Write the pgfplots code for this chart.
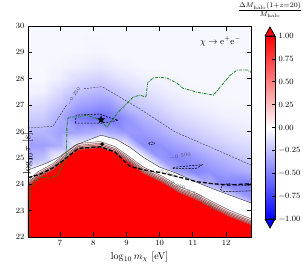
\documentclass[border=0pt]{standalone}
\usepackage{pgfplots}
\pgfplotsset{compat=1.18}
\usepackage{pgfplotstable}
\pgfplotsset{colormap={bwr}{rgb=(0,0,1) rgb=(1,1,1) rgb=(1,0,0)}}
\definecolor{pinkA}{rgb}{1,0.86,0.86}
\definecolor{pinkB}{rgb}{1,0.66,0.66}
\definecolor{pinkC}{rgb}{1,0.40,0.40}
\definecolor{dgreen}{rgb}{0.10,0.52,0.10}
\pgfdeclareplotmark{fstar}{%
  \pgfpathmoveto{\pgfpointpolar{90}{\pgfplotmarksize}}%
  \pgfpathlineto{\pgfpointpolar{126}{0.4\pgfplotmarksize}}%
  \pgfpathlineto{\pgfpointpolar{162}{\pgfplotmarksize}}%
  \pgfpathlineto{\pgfpointpolar{198}{0.4\pgfplotmarksize}}%
  \pgfpathlineto{\pgfpointpolar{234}{\pgfplotmarksize}}%
  \pgfpathlineto{\pgfpointpolar{270}{0.4\pgfplotmarksize}}%
  \pgfpathlineto{\pgfpointpolar{306}{\pgfplotmarksize}}%
  \pgfpathlineto{\pgfpointpolar{342}{0.4\pgfplotmarksize}}%
  \pgfpathlineto{\pgfpointpolar{18}{\pgfplotmarksize}}%
  \pgfpathlineto{\pgfpointpolar{54}{0.4\pgfplotmarksize}}%
  \pgfpathclose\pgfusepathqfillstroke}

% red (saturated) region boundary
\pgfplotstableread{
x y
6.04 23.90
6.34 24.23
6.79 24.54
7.15 24.92
7.55 25.30
8.21 25.38
8.66 25.18
9.05 24.84
9.50 24.42
10.10 24.05
10.60 23.67
11.13 23.40
11.52 23.14
12.12 22.76
12.75 22.45
}\redb

% zero contour
\pgfplotstableread{
x y
6.04 24.54
6.60 24.80
7.00 25.05
7.46 25.48
8.24 25.86
8.70 25.70
9.11 25.40
9.50 25.03
10.00 24.65
10.50 24.42
11.10 24.08
11.70 23.78
12.30 23.50
12.75 23.29
}\zerob

\begin{document}
\begin{tikzpicture}
\begin{axis}[
  at={(0pt,0pt)}, anchor=south west,
  width=223pt, height=211pt, scale only axis,
  xmin=6.04, xmax=12.75, ymin=22, ymax=30,
  xtick={7,8,9,10,11,12}, ytick={22,23,24,25,26,27,28,29,30},
  tick align=inside, major tick length=4.5pt,
  every tick/.style={black, line width=0.7pt},
  axis line style={line width=0.9pt},
  tick label style={font=\fontsize{8}{9}\selectfont},
  xlabel={$\log_{10} m_\chi$ [eV]},
  ylabel={$\log_{10}\tau$ [s]},
  xlabel style={at={(axis description cs:0.5,0)}, anchor=center, yshift=-20pt},
  ylabel style={at={(axis description cs:0,0.5)}, anchor=center, xshift=-22pt},
  colormap name=bwr, point meta min=-1, point meta max=1,
  axis on top,
]
\addplot[surf, shader=interp, mesh/cols=15, point meta=explicit]
 table[row sep=\\, x=x, y=y, meta=z]{
x y z\\
6.04 22 0\\ 6.5 22 0\\ 7 22 0\\ 7.5 22 0\\ 8 22 0\\ 8.25 22 0\\ 8.5 22 0\\ 9 22 0\\ 9.5 22 0\\ 10 22 0\\ 10.5 22 0\\ 11 22 0\\ 11.5 22 0\\ 12 22 0\\ 12.75 22 0\\
6.04 23 0\\ 6.5 23 0\\ 7 23 0\\ 7.5 23 0\\ 8 23 0\\ 8.25 23 0\\ 8.5 23 0\\ 9 23 0\\ 9.5 23 0\\ 10 23 0\\ 10.5 23 0\\ 11 23 0\\ 11.5 23 0\\ 12 23 0\\ 12.75 23 0\\
6.04 23.5 0\\ 6.5 23.5 0\\ 7 23.5 0\\ 7.5 23.5 0\\ 8 23.5 0\\ 8.25 23.5 0\\ 8.5 23.5 0\\ 9 23.5 0\\ 9.5 23.5 0\\ 10 23.5 0\\ 10.5 23.5 0\\ 11 23.5 0\\ 11.5 23.5 0\\ 12 23.5 -0.10\\ 12.75 23.5 -0.40\\
6.04 24 0\\ 6.5 24 0\\ 7 24 0\\ 7.5 24 0\\ 8 24 0\\ 8.25 24 0\\ 8.5 24 0\\ 9 24 0\\ 9.5 24 0\\ 10 24 0\\ 10.5 24 0\\ 11 24 -0.10\\ 11.5 24 -0.30\\ 12 24 -0.48\\ 12.75 24 -0.50\\
6.04 24.5 0\\ 6.5 24.5 0\\ 7 24.5 0\\ 7.5 24.5 0\\ 8 24.5 0\\ 8.25 24.5 0\\ 8.5 24.5 0\\ 9 24.5 0\\ 9.5 24.5 0\\ 10 24.5 0\\ 10.5 24.5 -0.35\\ 11 24.5 -0.48\\ 11.5 24.5 -0.43\\ 12 24.5 -0.37\\ 12.75 24.5 -0.30\\
6.04 25 -0.32\\ 6.5 25 -0.25\\ 7 25 0\\ 7.5 25 0\\ 8 25 0\\ 8.25 25 0\\ 8.5 25 0\\ 9 25 0\\ 9.5 25 0\\ 10 25 -0.40\\ 10.5 25 -0.47\\ 11 25 -0.42\\ 11.5 25 -0.34\\ 12 25 -0.28\\ 12.75 25 -0.20\\
6.04 25.5 -0.38\\ 6.5 25.5 -0.38\\ 7 25.5 -0.32\\ 7.5 25.5 -0.05\\ 8 25.5 0\\ 8.25 25.5 0\\ 8.5 25.5 0\\ 9 25.5 -0.08\\ 9.5 25.5 -0.45\\ 10 25.5 -0.43\\ 10.5 25.5 -0.36\\ 11 25.5 -0.30\\ 11.5 25.5 -0.23\\ 12 25.5 -0.18\\ 12.75 25.5 -0.13\\
6.04 26 -0.28\\ 6.5 26 -0.29\\ 7 26 -0.37\\ 7.5 26 -0.36\\ 8 26 -0.32\\ 8.25 26 -0.28\\ 8.5 26 -0.33\\ 9 26 -0.40\\ 9.5 26 -0.40\\ 10 26 -0.33\\ 10.5 26 -0.25\\ 11 26 -0.20\\ 11.5 26 -0.15\\ 12 26 -0.11\\ 12.75 26 -0.08\\
6.04 26.5 -0.20\\ 6.5 26.5 -0.21\\ 7 26.5 -0.33\\ 7.5 26.5 -0.50\\ 8 26.5 -0.56\\ 8.25 26.5 -0.58\\ 8.5 26.5 -0.54\\ 9 26.5 -0.42\\ 9.5 26.5 -0.30\\ 10 26.5 -0.23\\ 10.5 26.5 -0.16\\ 11 26.5 -0.12\\ 11.5 26.5 -0.09\\ 12 26.5 -0.06\\ 12.75 26.5 -0.05\\
6.04 27 -0.13\\ 6.5 27 -0.14\\ 7 27 -0.23\\ 7.5 27 -0.36\\ 8 27 -0.40\\ 8.25 27 -0.42\\ 8.5 27 -0.40\\ 9 27 -0.27\\ 9.5 27 -0.21\\ 10 27 -0.15\\ 10.5 27 -0.10\\ 11 27 -0.07\\ 11.5 27 -0.05\\ 12 27 -0.04\\ 12.75 27 -0.03\\
6.04 27.5 -0.05\\ 6.5 27.5 -0.06\\ 7 27.5 -0.15\\ 7.5 27.5 -0.24\\ 8 27.5 -0.28\\ 8.25 27.5 -0.29\\ 8.5 27.5 -0.26\\ 9 27.5 -0.19\\ 9.5 27.5 -0.13\\ 10 27.5 -0.09\\ 10.5 27.5 -0.06\\ 11 27.5 -0.04\\ 11.5 27.5 -0.03\\ 12 27.5 -0.03\\ 12.75 27.5 -0.03\\
6.04 28 -0.03\\ 6.5 28 -0.03\\ 7 28 -0.07\\ 7.5 28 -0.14\\ 8 28 -0.17\\ 8.25 28 -0.18\\ 8.5 28 -0.15\\ 9 28 -0.10\\ 9.5 28 -0.07\\ 10 28 -0.05\\ 10.5 28 -0.04\\ 11 28 -0.03\\ 11.5 28 -0.03\\ 12 28 -0.03\\ 12.75 28 -0.03\\
6.04 28.5 -0.03\\ 6.5 28.5 -0.03\\ 7 28.5 -0.04\\ 7.5 28.5 -0.06\\ 8 28.5 -0.08\\ 8.25 28.5 -0.09\\ 8.5 28.5 -0.07\\ 9 28.5 -0.05\\ 9.5 28.5 -0.03\\ 10 28.5 -0.03\\ 10.5 28.5 -0.03\\ 11 28.5 -0.03\\ 11.5 28.5 -0.03\\ 12 28.5 -0.03\\ 12.75 28.5 -0.03\\
6.04 29 -0.03\\ 6.5 29 -0.03\\ 7 29 -0.03\\ 7.5 29 -0.03\\ 8 29 -0.04\\ 8.25 29 -0.04\\ 8.5 29 -0.03\\ 9 29 -0.03\\ 9.5 29 -0.03\\ 10 29 -0.03\\ 10.5 29 -0.03\\ 11 29 -0.03\\ 11.5 29 -0.03\\ 12 29 -0.03\\ 12.75 29 -0.03\\
6.04 30 -0.03\\ 6.5 30 -0.03\\ 7 30 -0.03\\ 7.5 30 -0.03\\ 8 30 -0.03\\ 8.25 30 -0.03\\ 8.5 30 -0.03\\ 9 30 -0.03\\ 9.5 30 -0.03\\ 10 30 -0.03\\ 10.5 30 -0.03\\ 11 30 -0.03\\ 11.5 30 -0.03\\ 12 30 -0.03\\ 12.75 30 -0.03\\
};
% white band below the zero contour
\addplot[fill=white, draw=none] table {\zerob} \closedcycle;
% pink transition band and saturated red region
\addplot[fill=pinkA, draw=none, yshift=6.6pt] table {\redb} \closedcycle;
\addplot[fill=pinkB, draw=none, yshift=4.2pt] table {\redb} \closedcycle;
\addplot[fill=pinkC, draw=none, yshift=2.0pt] table {\redb} \closedcycle;
\addplot[fill=red, draw=none] table {\redb} \closedcycle;
% stacked positive contours
\addplot[black!75, line width=0.3pt, yshift=0.6pt] table {\redb};
\addplot[black!75, line width=0.3pt, yshift=1.9pt] table {\redb};
\addplot[black!75, line width=0.3pt, yshift=3.2pt] table {\redb};
\addplot[black!75, line width=0.3pt, yshift=4.6pt] table {\redb};
\addplot[black!75, line width=0.3pt, yshift=6.4pt] table {\redb};
% zero contour
\addplot[black!80, line width=0.4pt] table {\zerob};
% -0.25 contour
\addplot[black!75, line width=0.45pt, dash pattern=on 2pt off 1.2pt] coordinates {
(6.04,26.13) (6.79,26.20) (7.20,27.00)};
\addplot[black!75, line width=0.45pt, dash pattern=on 2pt off 1.2pt] coordinates {
(7.72,27.62) (8.27,27.70) (9.41,26.85) (10.47,25.98) (11.50,25.42) (12.75,24.73)};
% -0.5 contours
\addplot[black, line width=0.55pt, dash pattern=on 2pt off 1.2pt] coordinates {
(7.46,26.32) (7.49,26.62) (7.80,26.64) (8.21,26.66) (8.45,26.54) (8.75,26.43) (8.50,26.36) (8.24,26.32) (7.46,26.32)};
\addplot[black, line width=0.55pt, dash pattern=on 2pt off 1.2pt] coordinates {
(9.67,25.55) (9.75,25.61) (9.85,25.57) (9.82,25.50) (9.70,25.50) (9.67,25.55)};
\addplot[black, line width=0.55pt, dash pattern=on 2pt off 1.2pt] coordinates {
(10.41,24.64) (10.90,24.70) (11.28,24.74) (11.10,24.60) (10.41,24.59) (10.41,24.64)};
\addplot[black, line width=0.55pt, dash pattern=on 2pt off 1.2pt] coordinates {
(12.80,23.95) (12.30,23.97) (12.05,24.03) (11.88,23.95) (11.83,23.80) (11.95,23.72) (12.80,23.75)};
% thick dashed curve
\addplot[black, line width=1.3pt, dash pattern=on 4pt off 2pt] coordinates {
(6.04,24.25) (6.40,24.38) (6.79,24.62) (7.10,24.90) (7.55,25.36) (8.21,25.42) (8.66,25.22) (9.10,24.68) (9.50,24.55) (10.00,24.45) (10.50,24.30) (11.10,24.10) (11.60,24.02) (12.10,23.97) (12.75,24.02)};
% green dash-dotted curve
\addplot[dgreen, line width=0.8pt, dash pattern=on 3pt off 1pt on 0.8pt off 1pt] coordinates {
(6.08,22.00) (6.08,23.20) (6.13,23.86) (6.25,24.08) (6.43,24.27) (6.73,24.23) (6.94,24.35) (7.03,24.60) (7.18,24.92) (7.20,25.50) (7.21,25.90) (7.21,26.17) (7.24,26.50) (7.30,26.55) (7.60,26.55) (7.80,26.62) (8.10,26.50) (8.30,26.30) (8.42,26.17) (8.57,26.43) (8.75,26.73) (9.02,27.07) (9.20,27.30) (9.41,27.38) (9.59,27.30) (9.62,27.64) (9.65,27.87) (9.80,28.02) (10.00,28.06) (10.23,28.02) (10.53,27.83) (10.70,27.64) (11.13,27.49) (11.62,27.38) (11.82,27.68) (12.12,28.13) (12.33,28.33) (12.63,28.33) (12.75,28.25)};
% markers
\addplot[only marks, mark=fstar, mark size=3.6pt, black] coordinates {(8.24,26.45)};
\addplot[only marks, mark=*, mark size=1.6pt, black] coordinates {(8.27,25.52)};
% contour labels
\node[rotate=58, text=black!70, font=\fontsize{3.5}{4}\selectfont, inner sep=0pt] at (axis cs:7.42,27.32) {$-0.250$};
\node[rotate=8, text=black!70, font=\fontsize{3.5}{4}\selectfont, inner sep=0pt] at (axis cs:10.62,25.06) {$-0.500$};
\node[rotate=-22, text=black!60, font=\fontsize{3.5}{4}\selectfont, inner sep=0pt] at (axis cs:10.25,24.40) {$0.000$};
\node[rotate=-25, text=black!60, font=\fontsize{3.5}{4}\selectfont, inner sep=0pt] at (axis cs:10.55,23.95) {$0.250$};
\node[rotate=-22, text=black!60, font=\fontsize{3.5}{4}\selectfont, inner sep=0pt] at (axis cs:11.05,23.62) {$0.500$};
\node[rotate=-30, text=black!60, font=\fontsize{3.5}{4}\selectfont, inner sep=0pt] at (axis cs:11.50,23.15) {$0.750$};
\node[anchor=east, font=\fontsize{9}{10}\selectfont] at (axis cs:12.55,29.42) {$\chi\rightarrow \mathrm{e}^{+}\mathrm{e}^{-}$};
\end{axis}
% colorbar
\begin{axis}[
  at={(237pt,18pt)}, anchor=south west,
  width=10pt, height=183pt, scale only axis,
  xmin=0, xmax=1, ymin=-1, ymax=1,
  xtick=\empty,
  ytick={-1,-0.75,-0.5,-0.25,0,0.25,0.5,0.75,1},
  ytick pos=right, yticklabel pos=right,
  tick align=inside, major tick length=3pt,
  every tick/.style={black, line width=0.6pt},
  axis line style={line width=0.8pt},
  yticklabel style={font=\fontsize{8}{9}\selectfont, /pgf/number format/fixed, /pgf/number format/fixed zerofill, /pgf/number format/precision=2},
  colormap name=bwr, point meta min=-1, point meta max=1,
  clip=false, axis on top,
]
\addplot[surf, shader=interp, mesh/cols=2, point meta=explicit]
 table[row sep=\\, x=x, y=y, meta=z]{
x y z\\
0 -1 -1\\ 1 -1 -1\\
0 0 0\\ 1 0 0\\
0 1 1\\ 1 1 1\\
};
\addplot[fill=red, draw=black, line width=0.8pt] coordinates {(0,1) (0.5,1.098) (1,1) (0,1)};
\addplot[fill=blue, draw=black, line width=0.8pt] coordinates {(0,-1) (0.5,-1.098) (1,-1) (0,-1)};
\end{axis}
\node at (242pt,227pt) {$\frac{\Delta M_{\rm halo}(1+z=20)}{M_{\rm halo}}$};
\pgfresetboundingbox
\path[use as bounding box] (-28pt,-31pt) rectangle (275pt,237pt);
\end{tikzpicture}
\end{document}
